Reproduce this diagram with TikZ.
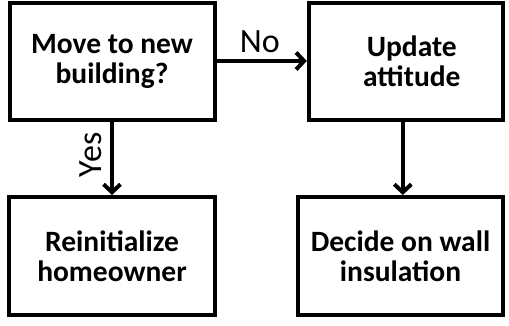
\documentclass[tikz,border=0pt]{standalone}
\usepackage{fontspec}
\setmainfont{Carlito}
\usetikzlibrary{arrows.meta,calc}
\begin{document}
\begin{tikzpicture}[x=1pt,y=-1pt,
  box/.style={draw,line width=4pt,minimum height=117pt,inner sep=0pt,align=center,
    font=\fontsize{29.5}{30}\selectfont\bfseries},
  conn/.style={line width=4pt,-{Straight Barb[length=8pt,width=17pt,line width=4pt]}},
  lbl/.style={font=\fontsize{34}{34}\selectfont,inner sep=0pt}]
\useasboundingbox (0,0) rectangle (509,326);
\node[box,minimum width=205pt] (b1) at (112,61.5) {Move to new\\building?};
\node[box,minimum width=194pt] (b2) at (405.8,61.5) {\hspace*{12pt}Update\\\hspace*{12pt}attitude};
\node[box,minimum width=206pt,minimum height=118pt] (b3) at (112,256) {Reinitialize\\homeowner};
\node[box,minimum width=205pt,minimum height=118pt] (b4) at (400.5,256) {Decide on wall\\insulation};
\draw[conn] (b1.east |- 0,61) -- (b2.west |- 0,61) node[lbl,pos=0.48,above=6pt] (no) {No};
\draw[conn] (b1.south) -- (b3.north) node[lbl,pos=0.45,rotate=90,anchor=south,inner xsep=0pt,inner ysep=8pt] (yes) {Yes};
\draw[conn] ([xshift=-3pt]b2.south) -- ([xshift=-3pt]b2.south |- b4.north);
\end{tikzpicture}
\end{document}
